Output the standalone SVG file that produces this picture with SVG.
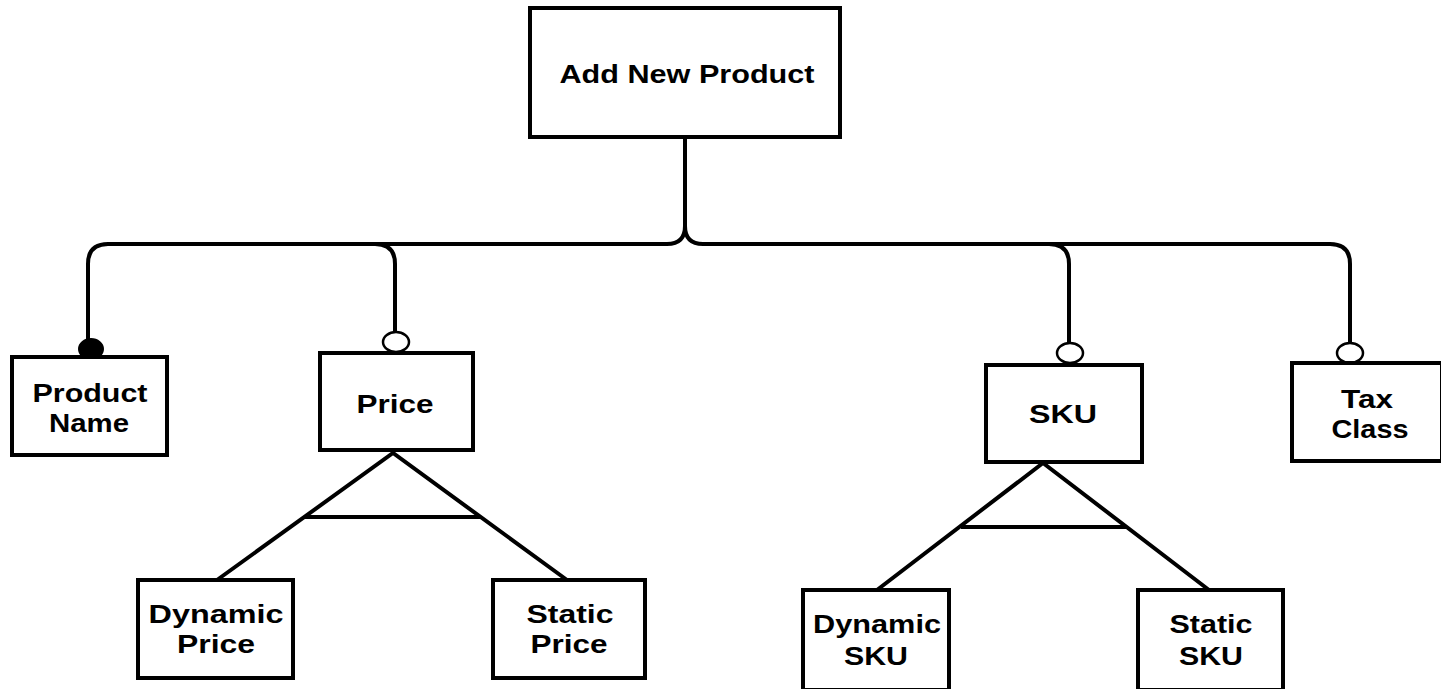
<svg xmlns="http://www.w3.org/2000/svg" width="1441" height="689" viewBox="0 0 1441 689">
<style>
.box{fill:#fff;stroke:#000;stroke-width:4}
.ln{fill:none;stroke:#000;stroke-width:4}
.t{font-family:"Liberation Sans",Arial,sans-serif;font-weight:bold;font-size:26px;text-anchor:middle;fill:#000}
</style>
<rect width="1441" height="689" fill="#fff"/>
<g id="connectors">
<path class="ln" d="M685,137 L685,226 Q685,244 667,244 L108,244 Q88,244 88,264 L88,345"/>
<path class="ln" d="M685,226 Q685,244 703,244 L1330,244 Q1350,244 1350,264 L1350,345"/>
<path class="ln" d="M375,244 Q395,244 395,264 L395,335"/>
<path class="ln" d="M1049,244 Q1069,244 1069,264 L1069,345"/>
<ellipse cx="91" cy="349" rx="12" ry="10" fill="#000" stroke="#000" stroke-width="2"/>
<ellipse cx="396" cy="342" rx="13" ry="10" fill="#fff" stroke="#000" stroke-width="2.5"/>
<ellipse cx="1070" cy="353" rx="13" ry="10" fill="#fff" stroke="#000" stroke-width="2.5"/>
<ellipse cx="1350" cy="353" rx="13" ry="10" fill="#fff" stroke="#000" stroke-width="2.5"/>
<path class="ln" d="M217,580 L393,453 L567,580 M305,517 L480,517"/>
<path class="ln" d="M877,590 L1043,463 L1209,590 M961,527 L1126,527"/>
</g>
<g id="add-new-product">
<rect class="box" x="530" y="8" width="310" height="129"/>
<text class="t" x="687" y="83" textLength="255" lengthAdjust="spacingAndGlyphs">Add New Product</text>
</g>
<g id="product-name">
<rect class="box" x="12" y="357" width="155" height="98"/>
<text class="t" x="90" y="402" textLength="115" lengthAdjust="spacingAndGlyphs">Product</text>
<text class="t" x="89" y="432" textLength="80" lengthAdjust="spacingAndGlyphs">Name</text>
</g>
<g id="price">
<rect class="box" x="320" y="353" width="153" height="97"/>
<text class="t" x="395" y="413" textLength="77" lengthAdjust="spacingAndGlyphs">Price</text>
</g>
<g id="sku">
<rect class="box" x="986" y="365" width="156" height="97"/>
<text class="t" x="1063" y="423" textLength="68" lengthAdjust="spacingAndGlyphs">SKU</text>
</g>
<g id="tax-class">
<rect class="box" x="1292" y="363" width="150" height="98"/>
<text class="t" x="1367" y="408" textLength="52" lengthAdjust="spacingAndGlyphs">Tax</text>
<text class="t" x="1370" y="438" textLength="77" lengthAdjust="spacingAndGlyphs">Class</text>
</g>
<g id="dynamic-price">
<rect class="box" x="138" y="580" width="155" height="98"/>
<text class="t" x="216" y="623" textLength="135" lengthAdjust="spacingAndGlyphs">Dynamic</text>
<text class="t" x="216" y="653" textLength="78" lengthAdjust="spacingAndGlyphs">Price</text>
</g>
<g id="static-price">
<rect class="box" x="493" y="580" width="152" height="98"/>
<text class="t" x="570" y="623" textLength="87" lengthAdjust="spacingAndGlyphs">Static</text>
<text class="t" x="569" y="653" textLength="77" lengthAdjust="spacingAndGlyphs">Price</text>
</g>
<g id="dynamic-sku">
<rect class="box" x="803" y="590" width="146" height="100"/>
<text class="t" x="877" y="633" textLength="128" lengthAdjust="spacingAndGlyphs">Dynamic</text>
<text class="t" x="876" y="665" textLength="64" lengthAdjust="spacingAndGlyphs">SKU</text>
</g>
<g id="static-sku">
<rect class="box" x="1138" y="590" width="145" height="100"/>
<text class="t" x="1211" y="633" textLength="83" lengthAdjust="spacingAndGlyphs">Static</text>
<text class="t" x="1211" y="665" textLength="64" lengthAdjust="spacingAndGlyphs">SKU</text>
</g>
</svg>
